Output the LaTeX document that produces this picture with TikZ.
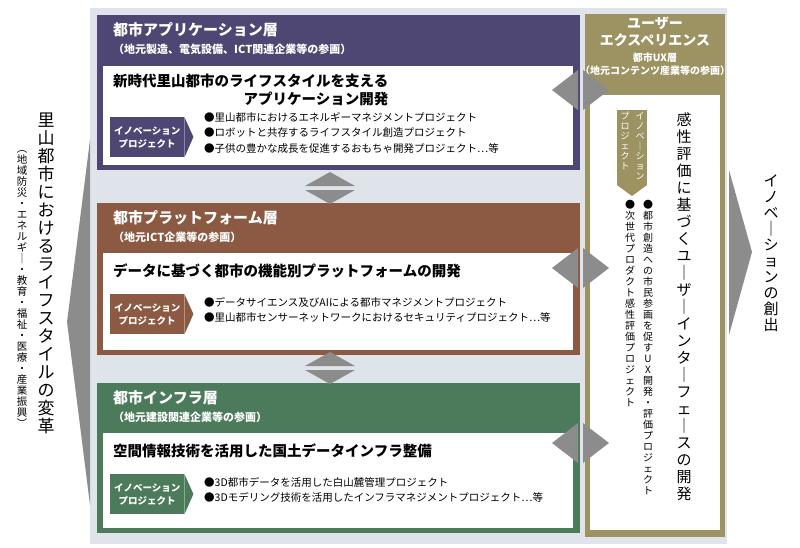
\documentclass[tikz,border=0pt]{standalone}
\usepackage{fontspec}
\setmainfont{Noto Sans CJK JP}
\usetikzlibrary{positioning}
\definecolor{appc}{HTML}{4E4673}
\definecolor{platc}{HTML}{8C5A42}
\definecolor{infc}{HTML}{4C7B5B}
\definecolor{uxc}{HTML}{9C9262}
\definecolor{bgc}{HTML}{DFE4EA}
\definecolor{arrc}{HTML}{8C8C8C}
% vertical text: one glyph per line
\newcommand\vchar[1]{\ifx#1ー\hbox to 1em{\hss｜\hss}%
  \else\ifx#1（\hbox to 1em{\hss︵\hss}%
  \else\ifx#1）\hbox to 1em{\hss︶\hss}%
  \else\hbox to 1em{\hss#1\hss}\fi\fi\fi}
\def\vtextloop#1{\ifx#1\vtextend\else\vchar{#1}\expandafter\vtextloop\fi}
\newcommand\vtext[2]{\vbox{\baselineskip=#1\lineskiplimit=-20pt\lineskip=0pt\vtextloop#2\vtextend}}
\tikzset{
  layer/.style={anchor=north west,inner sep=0},
  inner/.style={anchor=north west,fill=white,inner sep=0},
  ttl/.style={anchor=north west,inner sep=0,text=white,font=\bfseries\fontsize{15}{17}\selectfont},
  sub/.style={anchor=north west,inner sep=0,text=white,font=\bfseries\fontsize{11}{12}\selectfont},
  head/.style={anchor=north west,inner sep=0,font=\bfseries\fontsize{14.5}{18}\selectfont},
  item/.style={anchor=north west,inner sep=0,align=left,font=\fontsize{10.5}{15.5}\selectfont},
  tag/.style={anchor=north west,inner sep=0,minimum width=74pt,minimum height=40pt,align=center,text=white,font=\bfseries\fontsize{9.5}{13}\selectfont},
}
\begin{document}
\begin{tikzpicture}[x=1pt,y=-1pt]
\useasboundingbox (0,0) rectangle (800,547);
\fill[bgc] (90,8) rectangle (727,544);

% layers
\node[layer,fill=appc,minimum width=483pt,minimum height=155pt] (app) at (97,15) {};
\node[inner,minimum width=470pt,minimum height=99pt] (appin) at (103,66) {};
\node[ttl] (appt) at (113,22) {都市アプリケーション層};
\node[sub] (apps) at (113,44) {（地元製造、電気設備、ICT関連企業等の参画）};
\node[head,align=right] (apph) at (113,74) {新時代里山都市のライフスタイルを支える\\アプリケーション開発};
\node[tag,fill=appc] (appg) at (110,117) {イノベーション\\プロジェクト};
\fill[appc] (appg.north east) -- ++(9,20) -- (appg.south east) -- cycle;
\node[item] (appi) at (204,112) {●里山都市におけるエネルギーマネジメントプロジェクト\\●ロボットと共存するライフスタイル創造プロジェクト\\●子供の豊かな成長を促進するおもちゃ開発プロジェクト…等};

\node[layer,fill=platc,minimum width=483pt,minimum height=152pt] (plat) at (97,203) {};
\node[inner,minimum width=470pt,minimum height=97pt] (platin) at (103,253) {};
\node[ttl] (platt) at (113,210) {都市プラットフォーム層};
\node[sub] (plats) at (113,232) {（地元ICT企業等の参画）};
\node[head] (plath) at (113,264) {データに基づく都市の機能別プラットフォームの開発};
\node[tag,fill=platc] (platg) at (110,294) {イノベーション\\プロジェクト};
\fill[platc] (platg.north east) -- ++(9,20) -- (platg.south east) -- cycle;
\node[item] (plati) at (204,297) {●データサイエンス及びAIによる都市マネジメントプロジェクト\\●里山都市センサーネットワークにおけるセキュリティプロジェクト…等};

\node[layer,fill=infc,minimum width=483pt,minimum height=150pt] (inf) at (97,383) {};
\node[inner,minimum width=470pt,minimum height=95pt] (infin) at (103,433) {};
\node[ttl] (inft) at (113,390) {都市インフラ層};
\node[sub] (infs) at (113,412) {（地元建設関連企業等の参画）};
\node[head] (infh) at (113,444) {空間情報技術を活用した国土データインフラ整備};
\node[tag,fill=infc] (infg) at (110,474) {イノベーション\\プロジェクト};
\fill[infc] (infg.north east) -- ++(9,20) -- (infg.south east) -- cycle;
\node[item] (infi) at (204,477) {●3D都市データを活用した白山麓管理プロジェクト\\●3Dモデリング技術を活用したインフラマネジメントプロジェクト…等};

% UX column
\node[layer,fill=uxc,minimum width=140pt,minimum height=523pt] (ux) at (585,14) {};
\node[inner,minimum width=130pt,minimum height=435pt] (uxin) at (590,95) {};
\node[anchor=north,inner sep=0,text=white,align=center,font=\bfseries\fontsize{14}{17}\selectfont] (uxt) at (655,17) {ユーザー\\エクスペリエンス};
\node[anchor=north,inner sep=0,text=white,align=center,font=\bfseries\fontsize{10}{13}\selectfont] (uxs) at (655,53) {都市UX層\\（地元コンテンツ産業等の参画）};
\fill[uxc] (617,110) rectangle (647,185);
\fill[uxc] (617,185) -- (647,185) -- (632,196) -- cycle;
\node[anchor=north,inner sep=0,text=white,font=\fontsize{9}{10}\selectfont] (uxg1) at (640,112) {\vtext{10pt}{イノベーション}};
\node[anchor=north,inner sep=0,text=white,font=\fontsize{9}{10}\selectfont] (uxg2) at (625,112) {\vtext{10pt}{プロジェクト}};
\node[anchor=north,inner sep=0,font=\fontsize{15}{17}\selectfont] (uxh) at (684,113) {\vtext{17pt}{感性評価に基づくユーザーインターフェースの開発}};
\node[anchor=north,inner sep=0,font=\fontsize{10}{11}\selectfont] (uxi1) at (648,200) {\vtext{11pt}{●都市創造への市民参画を促すUX開発・評価プロジェクト}};
\node[anchor=north,inner sep=0,font=\fontsize{10}{11}\selectfont] (uxi2) at (630,200) {\vtext{11pt}{●次世代プロダクト感性評価プロジェクト}};

% arrows between layers
\foreach \yy in {172,352} {
  \fill[arrc] (305,\yy+14) -- (330,\yy) -- (355,\yy+14) -- cycle;
  \fill[arrc] (305,\yy+18) -- (330,\yy+32) -- (355,\yy+18) -- cycle;
}
% arrows to UX column
\foreach \yy in {90,268,443} {
  \fill[arrc] (578,\yy-20) -- (578,\yy+20) -- (552,\yy) -- cycle;
  \fill[arrc] (583,\yy-20) -- (583,\yy+20) -- (609,\yy) -- cycle;
}
% outer arrows
\fill[arrc] (90,140) -- (90,505) -- (67,322) -- cycle;
\fill[arrc] (729,170) -- (729,335) -- (752,252) -- cycle;

% side texts
\node[anchor=north,inner sep=0,font=\fontsize{17}{18}\selectfont] (left) at (46,113) {\vtext{18pt}{里山都市におけるライフスタイルの変革}};
\node[anchor=north,inner sep=0,font=\fontsize{10.5}{11}\selectfont] (lsub) at (22,150) {\vtext{11pt}{（地域防災・エネルギー・教育・福祉・医療・産業振興）}};
\node[anchor=north,inner sep=0,font=\fontsize{15}{16}\selectfont] (right) at (771,175) {\vtext{16pt}{イノベーションの創出}};
\end{tikzpicture}
\end{document}
